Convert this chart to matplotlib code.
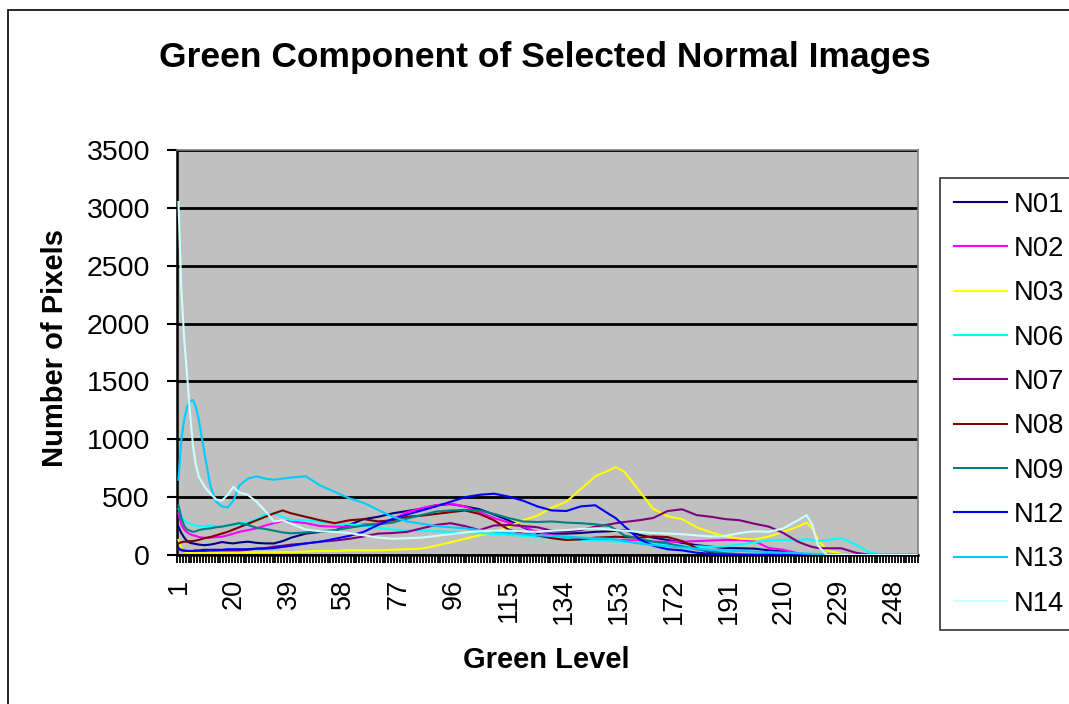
import matplotlib
matplotlib.use("Agg")
import matplotlib.pyplot as plt
from matplotlib.patches import Rectangle

plt.rcParams['font.family'] = ['Liberation Sans', 'DejaVu Sans']

levels = [1, 2, 3, 4, 5, 6, 7, 8, 10, 12, 14, 16, 18, 20, 22, 25, 28, 31, 34, 37, 40,
          45, 50, 55, 60, 65, 70, 75, 80, 85, 90, 95, 100, 105, 110, 115, 120, 125,
          130, 135, 140, 145, 150, 152, 155, 160, 165, 170, 175, 180, 185, 190, 195,
          200, 205, 210, 215, 218, 220, 222, 225, 230, 235, 240, 245, 250, 256]

series_names = ["N01", "N02", "N03", "N06", "N07", "N08", "N09", "N12", "N13", "N14"]

n01 = [245, 190, 150, 120, 105, 100, 95, 90, 85, 90, 100, 112, 105, 100, 108, 115, 105, 100, 100, 120, 150,
       185, 200, 210, 260, 310, 330, 360, 380, 400, 430, 440, 420, 395, 350, 300, 240, 190,
       185, 185, 190, 200, 205, 210, 215, 175, 150, 130, 105, 85, 72, 60, 58,
       55, 40, 30, 10, 0, 0, 0, 0, 0, 0, 0, 0, 0, 0]
n02 = [360, 260, 220, 195, 180, 170, 165, 155, 148, 150, 155, 158, 170, 185, 200, 215, 230, 255, 275, 295, 290,
       275, 250, 245, 245, 265, 270, 310, 370, 405, 430, 445, 420, 370, 320, 280, 245, 200,
       170, 150, 135, 130, 130, 130, 130, 125, 115, 115, 115, 120, 125, 130, 130,
       120, 60, 45, 15, 5, 0, 0, 0, 0, 0, 0, 0, 0, 0]
n03 = [130, 60, 30, 20, 20, 20, 20, 20, 20, 20, 20, 20, 20, 20, 20, 22, 22, 24, 24, 25, 25,
       30, 35, 35, 40, 40, 40, 45, 50, 55, 80, 110, 140, 170, 195, 240, 300, 340,
       410, 460, 570, 680, 735, 760, 720, 560, 400, 335, 310, 240, 195, 160, 140,
       135, 160, 200, 245, 280, 230, 130, 40, 10, 0, 0, 0, 0, 0]
n06 = [400, 340, 300, 280, 270, 260, 255, 250, 250, 255, 245, 250, 255, 260, 270, 280, 310, 350, 360, 330, 300,
       300, 285, 275, 265, 255, 235, 220, 215, 210, 205, 200, 195, 190, 180, 175, 165, 155,
       150, 140, 130, 125, 120, 118, 115, 110, 100, 90, 80, 75, 70, 75, 90,
       110, 125, 130, 130, 135, 130, 120, 130, 145, 90, 20, 0, 0, 0]
n07 = [50, 40, 35, 35, 35, 35, 35, 35, 35, 38, 38, 40, 40, 40, 40, 45, 55, 60, 72, 80, 90,
       100, 115, 125, 140, 160, 185, 190, 200, 230, 260, 275, 250, 215, 255, 260, 250, 240,
       210, 200, 215, 245, 265, 275, 285, 300, 320, 380, 395, 345, 330, 310, 300,
       270, 245, 190, 115, 86, 70, 60, 58, 58, 20, 0, 0, 0, 0]
n08 = [100, 110, 115, 115, 120, 120, 125, 130, 145, 155, 170, 185, 200, 220, 240, 270, 300, 330, 360, 385, 360,
       330, 300, 275, 300, 310, 290, 300, 330, 340, 355, 370, 385, 355, 300, 220, 185, 170,
       145, 130, 135, 150, 155, 158, 155, 150, 160, 155, 120, 60, 20, 5, 0,
       0, 0, 0, 0, 0, 0, 0, 0, 0, 0, 0, 0, 0, 0]
n09 = [430, 320, 250, 220, 210, 200, 205, 215, 225, 230, 240, 245, 255, 265, 275, 260, 235, 225, 210, 195, 187,
       195, 205, 215, 235, 255, 265, 280, 315, 345, 375, 385, 390, 385, 355, 320, 290, 285,
       290, 280, 275, 265, 250, 220, 170, 140, 115, 100, 75, 50, 30, 15, 8,
       5, 5, 5, 0, 0, 0, 0, 0, 0, 0, 0, 0, 0, 0]
n12 = [60, 45, 40, 35, 35, 35, 40, 40, 45, 45, 45, 45, 50, 50, 50, 50, 55, 55, 60, 70, 80,
       100, 115, 140, 165, 200, 260, 310, 350, 385, 420, 460, 500, 520, 530, 505, 470, 420,
       385, 380, 420, 430, 350, 320, 250, 140, 80, 50, 40, 20, 10, 5, 0,
       0, 0, 0, 0, 0, 0, 0, 0, 0, 0, 0, 0, 0, 0]
n13 = [650, 1000, 1170, 1280, 1330, 1340, 1280, 1170, 880, 600, 460, 420, 410, 470, 600, 660, 680, 660, 650, 660, 670,
       680, 600, 545, 490, 450, 390, 330, 290, 270, 250, 240, 230, 215, 200, 190, 180, 170,
       165, 160, 150, 145, 140, 135, 120, 100, 85, 75, 65, 55, 45, 40, 35,
       30, 25, 20, 15, 12, 10, 8, 5, 0, 0, 0, 0, 0, 0]
n14 = [3050, 2300, 1860, 1550, 1230, 950, 780, 680, 590, 530, 480, 470, 520, 590, 540, 520, 460, 380, 290, 300, 270,
       220, 205, 200, 190, 170, 150, 140, 145, 150, 165, 180, 195, 205, 210, 210, 205, 200,
       210, 215, 225, 230, 220, 215, 210, 200, 190, 185, 180, 170, 160, 165, 190,
       205, 200, 230, 300, 345, 260, 80, 0, 0, 0, 0, 0, 0, 0]

series_values = [n01, n02, n03, n06, n07, n08, n09, n12, n13, n14]
series_colors = ["#000080", "#FF00FF", "#FFFF00", "#00FFFF", "#800080",
                 "#800000", "#008080", "#0000FF", "#00CCFF", "#CCFFFF"]

x_tick_labels = list(range(1, 257, 19))
y_ticks = list(range(0, 3501, 500))

W, H = 1069, 704
fig = plt.figure(figsize=(W / 100, H / 100), dpi=100)
fig.patch.set_facecolor("white")

# outer chart border
fig.patches.append(Rectangle((8 / W, -0.1), 1.2, (1 - 10 / H) + 0.1, transform=fig.transFigure,
                             fill=False, edgecolor="black", linewidth=1.2))

L, R, T, B = 177, 918, 150, 555
ax = fig.add_axes([L / W, 1 - B / H, (R - L) / W, (B - T) / H])
ax.set_facecolor("#C0C0C0")

for name, vals, col in zip(series_names, series_values, series_colors):
    ax.plot(levels, vals, color=col, linewidth=1.5, label=name, zorder=3)

ax.set_xlim(0.5, 256.5)
ax.set_ylim(0, 3500)
ax.set_yticks(y_ticks)
ax.set_yticklabels([str(v) for v in y_ticks], fontsize=20.5)
ax.yaxis.grid(True, color="black", linewidth=2.0, zorder=1)
ax.set_axisbelow(True)

ax.set_xticks(x_tick_labels)
ax.set_xticklabels([str(v) for v in x_tick_labels], rotation=90, fontsize=19.5)
ax.set_xticks([i + 0.5 for i in range(0, 257)], minor=True)
ax.tick_params(axis="x", which="major", length=0, pad=17)
ax.tick_params(axis="x", which="minor", length=6, width=1.3, color="black")
ax.tick_params(axis="y", which="major", length=7, width=1.5, pad=12.5)

for s in ["left", "bottom"]:
    ax.spines[s].set_color("black")
    ax.spines[s].set_linewidth(1.8)
for s in ["top", "right"]:
    ax.spines[s].set_color("#808080")
    ax.spines[s].set_linewidth(1.2)

fig.text(545 / W, 1 - 58 / H, "Green Component of Selected Normal Images",
         ha="center", va="center", fontsize=25.5, fontweight="bold")
fig.text(546 / W, 1 - 660 / H, "Green Level", ha="center", va="center",
         fontsize=21, fontweight="bold")
fig.text(55 / W, 1 - 348 / H, "Number of Pixels", ha="center", va="center",
         rotation=90, fontsize=21, fontweight="bold")

leg = fig.legend(loc="upper left", bbox_to_anchor=(940 / W, 1 - 178 / H),
                 fontsize=19.7, frameon=True, fancybox=False, shadow=False,
                 handlelength=1.95, handletextpad=0.25, labelspacing=0.67,
                 borderpad=0.5, borderaxespad=0)
leg.get_frame().set_edgecolor("black")
leg.get_frame().set_linewidth(1.2)
for line in leg.get_lines():
    line.set_linewidth(1.5)

fig.savefig("out.png", dpi=100)
